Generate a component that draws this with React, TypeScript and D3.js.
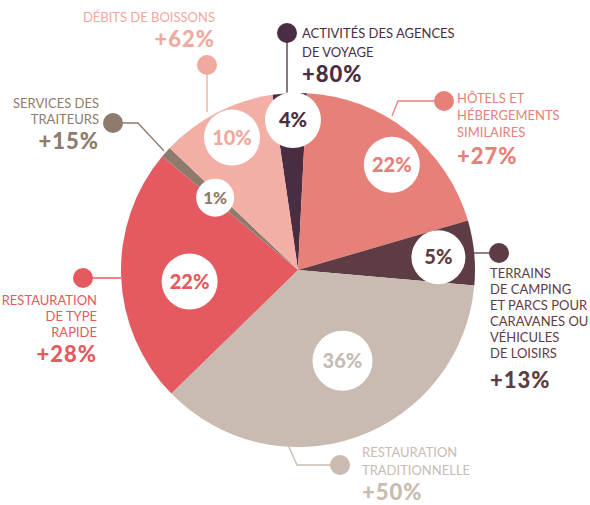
import React from "react";
import * as d3 from "d3";

// parts of the sector (angular shares) and printed labels
const categories = [
  "Activités des agences de voyage",
  "Hôtels et hébergements similaires",
  "Terrains de camping",
  "Restauration traditionnelle",
  "Restauration de type rapide",
  "Services des traiteurs",
  "Débits de boissons",
];
const shares = [3.1, 19.7, 5.9, 36.3, 23.4, 1.0, 10.6];
const shareLabels = ["4%", "22%", "5%", "36%", "22%", "1%", "10%"];
const growth = ["+80%", "+27%", "+13%", "+50%", "+28%", "+15%", "+62%"];
const nameLines = [
  ["ACTIVITÉS DES AGENCES", "DE VOYAGE"],
  ["HÔTELS ET", "HÉBERGEMENTS", "SIMILAIRES"],
  ["TERRAINS", "DE CAMPING", "ET PARCS POUR", "CARAVANES OU", "VÉHICULES", "DE LOISIRS"],
  ["RESTAURATION", "TRADITIONNELLE"],
  ["RESTAURATION", "DE TYPE", "RAPIDE"],
  ["SERVICES DES", "TRAITEURS"],
  ["DÉBITS DE BOISSONS"],
];

const colors = ["#4b2d42", "#e8807a", "#5e3c44", "#c9bbb1", "#e45a60", "#8f7b6d", "#f3aea6"];
const textColors = ["#4b2d42", "#e8807a", "#5e3c44", "#c9bbb1", "#e45a60", "#8f7b6d", "#f1a89f"];

const W = 590;
const H = 505;
const cx = 298;
const cy = 270;
const R = 177;
const startDeg = -8.3;

// where the white bubbles sit: [distance from centre, angle nudge in degrees, radius]
const bubble = [
  [150, 0.8, 28],
  [141, 3.4, 28],
  [141, 0.4, 27],
  [101, -6.5, 30],
  [109, -3.9, 28],
  [110, -0.6, 19],
  [148, 0.9, 28],
];

// callouts: dot, leader path, text anchor
const callouts = [
  { dot: [287, 33], path: [[287, 33], [287, 93]], tx: 302, ty: 38, anchor: "start", gy: 82 },
  { dot: [444, 101], path: [[444, 101], [398, 101], [392, 116]], tx: 457, ty: 103, anchor: "start", gy: 164 },
  { dot: [499, 253], path: [[499, 253], [473, 253]], tx: 490, ty: 278, anchor: "start", gy: 388 },
  { dot: [340, 465], path: [[340, 465], [297, 465], [288, 445]], tx: 362, ty: 457, anchor: "start", gy: 500 },
  { dot: [83, 278], path: [[83, 278], [121, 278]], tx: 97, ty: 305, anchor: "end", gy: 362 },
  { dot: [113, 123], path: [[113, 123], [138, 123], [164, 151]], tx: 99, ty: 108, anchor: "end", gy: 149 },
  { dot: [207, 65], path: [[207, 65], [207, 112]], tx: 215, ty: 22, anchor: "end", gy: 47 },
];
const lineGaps = [19, 17, 16, 18, 16, 16, 0];

export default function App() {
  const toRad = (d: number) => (d * Math.PI) / 180;
  const pie = d3
    .pie<number>()
    .sort(null)
    .startAngle(toRad(startDeg))
    .endAngle(toRad(startDeg) + 2 * Math.PI);
  const arcs = pie(shares);
  const arc = d3.arc<d3.PieArcDatum<number>>().innerRadius(0).outerRadius(R);
  const line = d3.line();

  return (
    <svg
      width={W}
      height={H}
      style={{ position: "absolute", left: 0, top: 0, background: "#fff" }}
      fontFamily="Lato, sans-serif"
    >
      <g transform={`translate(${cx},${cy})`}>
        {arcs.map((a, i) => (
          <path key={i} d={arc(a) as string} fill={colors[i]} />
        ))}
      </g>

      {callouts.map((c, i) => (
        <g key={i}>
          <path d={line(c.path as [number, number][]) as string} fill="none" stroke={textColors[i]} strokeWidth={1.3} />
          <circle cx={c.dot[0]} cy={c.dot[1]} r={10} fill={textColors[i]} />
        </g>
      ))}

      {arcs.map((a, i) => {
        const [dist, nudge, br] = bubble[i];
        const ang = (a.startAngle + a.endAngle) / 2 + toRad(nudge);
        const x = cx + dist * Math.sin(ang);
        const y = cy - dist * Math.cos(ang);
        return (
          <g key={i}>
            <circle cx={x} cy={y} r={br} fill="#fff" />
            <text
              x={x}
              y={y}
              dy="0.36em"
              textAnchor="middle"
              fontWeight={900}
              fontSize={br < 22 ? 17 : 20}
              fill={textColors[i]}
            >
              {shareLabels[i]}
            </text>
          </g>
        );
      })}

      {callouts.map((c, i) => (
        <g key={i} fill={textColors[i]}>
          {nameLines[i].map((s, j) => (
            <text key={j} x={c.tx} y={c.ty + j * (lineGaps[i] || 16)} textAnchor={c.anchor} fontSize={13}>
              {s}
            </text>
          ))}
          <text x={c.tx} y={c.gy} textAnchor={c.anchor} fontSize={22} fontWeight={900} letterSpacing={1}>
            {growth[i]}
          </text>
        </g>
      ))}
    </svg>
  );
}
